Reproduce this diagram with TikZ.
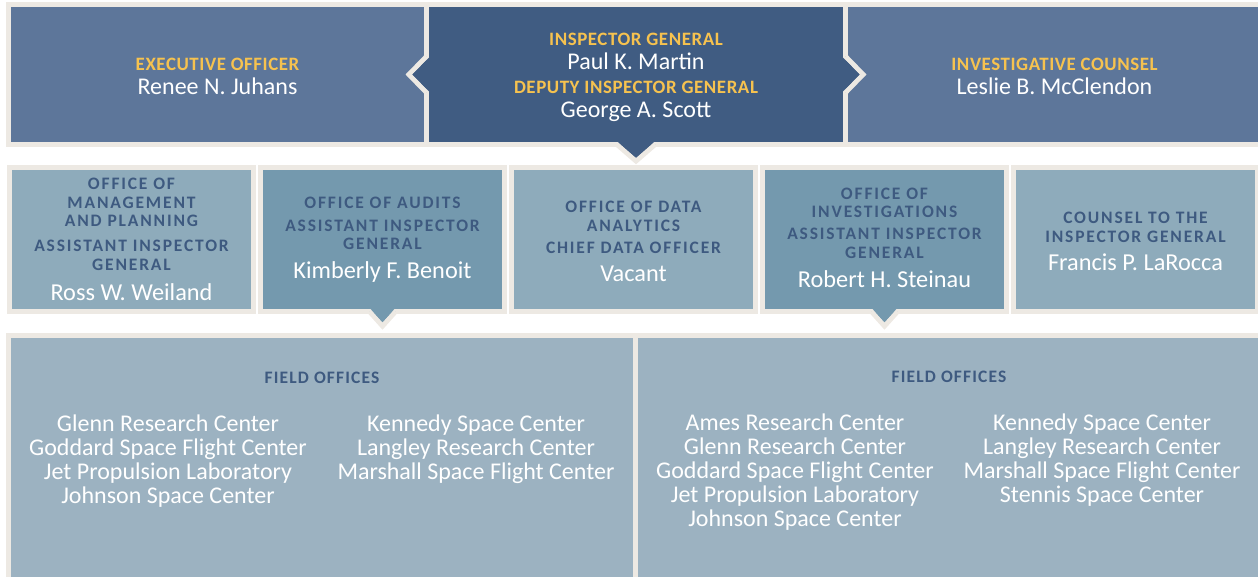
\documentclass[tikz,border=0pt]{standalone}
\usepackage{fontspec}
\setmainfont{Carlito}
\newfontfamily\toplblfont[LetterSpace=3]{Carlito}
\newfontfamily\midlblfont[LetterSpace=10.5]{Carlito}
\newfontfamily\headfont[LetterSpace=6.5]{Carlito}
\usetikzlibrary{calc,positioning}

\definecolor{frame}{HTML}{EDE9E3}
\definecolor{topside}{HTML}{5D769A}
\definecolor{igblue}{HTML}{405C82}
\definecolor{midlight}{HTML}{8EABBB}
\definecolor{middark}{HTML}{7499AE}
\definecolor{field}{HTML}{9CB2C1}
\definecolor{gold}{HTML}{F6C24F}
\definecolor{labelblue}{HTML}{3E5A80}

\newcommand\toplbl[1]{{\toplblfont\bfseries\fontsize{18.9}{24}\selectfont\color{gold}#1}}
\newcommand\nm[1]{{\normalfont\fontsize{24.3}{18.5}\selectfont\color{white}#1}}
% pointer tab: anchor, fill, half width, depth, turn
\newcommand\tab[5]{%
  \pgfmathsetmacro\tabside{2.5*sqrt((#3)*(#3)+(#4)*(#4))}%
  \pgfmathsetmacro\tabtip{#4-\tabside/(#3)}%
  \pgfmathsetmacro\tabw{(#3)*(1+2.5/(#4))-\tabside/(#4)}%
  \begin{scope}[shift={(#1)}, rotate=#5]
    \filldraw[fill=#2, draw=frame, line width=5pt] (-#3,0) -- (0,#4) -- (#3,0);
    \fill[#2] (-\tabw,-2.5) -- (0,\tabtip) -- (\tabw,-2.5) -- cycle;
  \end{scope}}

\tikzset{
  box/.style={rectangle, draw=frame, line width=5pt, inner sep=0pt, outer sep=0pt},
  topbox/.style={box, minimum width=418pt, minimum height=140pt},
  midbox/.style={box, minimum width=244pt, minimum height=144pt},
  fieldbox/.style={box, fill=field, minimum width=627pt, minimum height=275pt},
  toptext/.style={align=center, inner sep=0pt, text=white, font=\fontsize{24}{24}\selectfont},
  midtext/.style={align=center, inner sep=0pt, text=labelblue, font=\midlblfont\bfseries\fontsize{17.5}{18.5}\selectfont},
  fieldhead/.style={text=labelblue, inner sep=0pt, font=\headfont\bfseries\fontsize{17.5}{18}\selectfont},
  sites/.style={align=center, text=white, inner sep=0pt, font=\fontsize{24}{24}\selectfont},
}

\begin{document}
\begin{tikzpicture}[x=1pt, y=-1pt, line join=miter]
	\useasboundingbox (0,0) rectangle (1258,577);
	% front office
	\node[topbox, fill=topside] (exec) at (217.5,74.5) {};
	\node[topbox, fill=topside] (ic) at (1054.5,74.5) {};
	\node[topbox, fill=igblue, minimum width=419pt] (ig) at (636,74.5) {};
	\tab{ig.south}{igblue}{19}{16.5}{0}
	\tab{ig.west}{igblue}{18}{17.5}{-90}
	\tab{ig.east}{igblue}{18}{17.5}{90}
	\node[toptext] (exectext) at ($(exec)+(0,2)$) {\toplbl{EXECUTIVE OFFICER}\\ Renee N. Juhans};
	\node[toptext] (ictext) at ($(ic)+(0,2)$) {\toplbl{INVESTIGATIVE COUNSEL}\\ Leslie B. McClendon};
	\node[toptext] (igtext) at ($(ig)+(0,3)$) {\toplbl{INSPECTOR GENERAL}\\ Paul K. Martin\\ \toplbl{DEPUTY INSPECTOR GENERAL}\\ George A. Scott};
	% field offices
	\node[fieldbox, anchor=north west] (fieldL) at (8.5,335) {};
	\node[fieldbox, right=0pt of fieldL] (fieldR) {};
	\node[fieldhead] (headL) at ($(fieldL.north)+(0,43)$) {FIELD OFFICES};
	\node[fieldhead] (headR) at ($(fieldR.north)+(0,42)$) {FIELD OFFICES};
	\node[sites, anchor=north] (sitesL1) at ($(fieldL.north)+(-154,80)$) {Glenn Research Center\\ Goddard Space Flight Center\\ Jet Propulsion Laboratory\\ Johnson Space Center};
	\node[sites, anchor=north] (sitesL2) at ($(fieldL.north)+(154,80)$) {Kennedy Space Center\\ Langley Research Center\\ Marshall Space Flight Center};
	\node[sites, anchor=north] (sitesR1) at ($(fieldR.north)+(-154,78.5)$) {Ames Research Center\\ Glenn Research Center\\ Goddard Space Flight Center\\ Jet Propulsion Laboratory\\ Johnson Space Center};
	\node[sites, anchor=north] (sitesR2) at ($(fieldR.north)+(153,78.5)$) {Kennedy Space Center\\ Langley Research Center\\ Marshall Space Flight Center\\ Stennis Space Center};
	% offices
	\node[midbox, fill=midlight] (mgmt) at (131.5,239.5) {};
	\node[midbox, fill=middark, right=7pt of mgmt] (audits) {};
	\node[midbox, fill=midlight, right=7pt of audits] (data) {};
	\node[midbox, fill=middark, right=7pt of data] (invest) {};
	\node[midbox, fill=midlight, right=7pt of invest] (cig) {};
	\tab{audits.south}{middark}{13}{14.5}{0}
	\tab{invest.south}{middark}{13}{14.5}{0}
	\node[midtext] (mgmttext) at (mgmt) {OFFICE OF\\ MANAGEMENT\\ AND PLANNING\\[6.5pt] ASSISTANT INSPECTOR\\ GENERAL\\[12pt] \nm{Ross W. Weiland}};
	\node[midtext] (auditstext) at (audits) {OFFICE OF AUDITS\\[4.5pt] ASSISTANT INSPECTOR\\ GENERAL\\[10.5pt] \nm{Kimberly F. Benoit}};
	\node[midtext] (datatext) at ($(data)+(0,2)$) {OFFICE OF DATA\\ ANALYTICS\\[3.5pt] CHIEF DATA OFFICER\\[9.5pt] \nm{Vacant}};
	\node[midtext] (investtext) at ($(invest)+(0,-2)$) {OFFICE OF\\ INVESTIGATIONS\\[3.5pt] ASSISTANT INSPECTOR\\ GENERAL\\[10.5pt] \nm{Robert H. Steinau}};
	\node[midtext] (cigtext) at ($(cig)+(0,2)$) {COUNSEL TO THE\\ INSPECTOR GENERAL\\[9.5pt] \nm{Francis P. LaRocca}};
\end{tikzpicture}
\end{document}
